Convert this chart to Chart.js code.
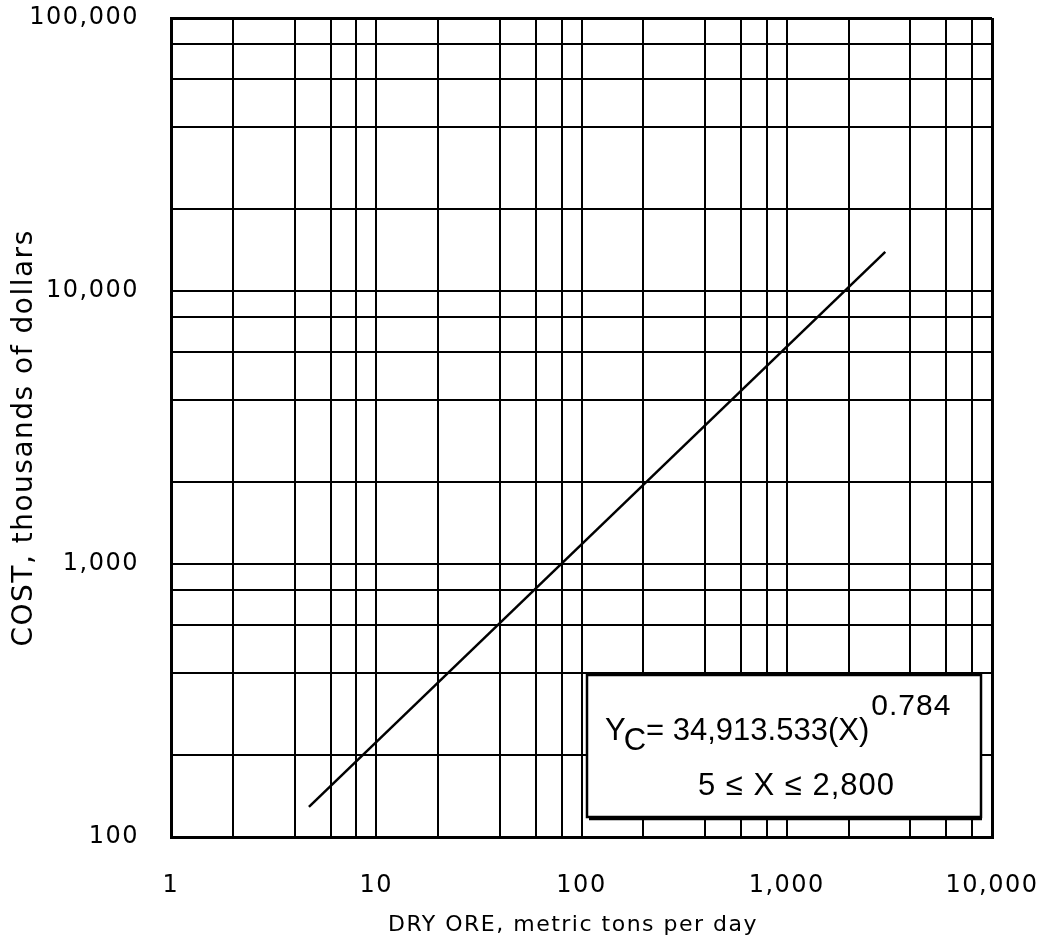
<!DOCTYPE html>
<html>
<head>
<meta charset="utf-8">
<script src="https://cdn.jsdelivr.net/npm/chart.js@4.4.1/dist/chart.umd.min.js"></script>
<style>
  html, body { margin: 0; padding: 0; background: #fff; }
  #wrap { width: 1048px; height: 951px; }
</style>
</head>
<body>
<div id="wrap"><canvas id="costChart"></canvas></div>
<script>
// cost curve (ends of the fitted line)
const oreTons = [4.7, 3020];
const costThousands = [129, 13900];

// grid lines of the log paper and the labelled decades
const xGrid = [1, 2, 4, 6, 8, 10, 20, 40, 60, 80, 100, 200, 400, 600, 800, 1000, 2000, 4000, 6000, 8000, 10000];
const yGrid = [100, 200, 400, 600, 800, 1000, 2000, 4000, 6000, 8000, 10000, 20000, 40000, 60000, 80000, 100000];
const xLabelValues = [1, 10, 100, 1000, 10000];
const xTickLabels = ["1", "10", "100", "1,000", "10,000"];
const yLabelValues = [100, 1000, 10000, 100000];
const yTickLabels = ["100", "1,000", "10,000", "100,000"];

const eqLead = "Y";
const eqSub = "C";
const eqText = "= 34,913.533(X)";
const eqExponent = "0.784";
const rangeText = "5 \u2264 X \u2264 2,800";

Chart.defaults.color = "#000";
Chart.defaults.font.family = "'DejaVu Sans', sans-serif";

// the plotter font is spaced out, widen all axis text a little
const spacing = {
  id: "spacing",
  beforeLayout(chart) { chart.ctx.letterSpacing = "1.5px"; },
  beforeDraw(chart) { chart.ctx.letterSpacing = "1.5px"; }
};

// boxed regression equation in the lower right
const eqBox = {
  id: "eqBox",
  afterDraw(chart) {
    const { ctx, chartArea: a } = chart;
    const x0 = a.right - 405, y0 = a.bottom - 162, w = 394, h = 142;
    ctx.save();
    ctx.letterSpacing = "0px";
    ctx.fillStyle = "#fff";
    ctx.fillRect(x0, y0, w, h);
    ctx.strokeStyle = "#000";
    ctx.lineWidth = 2.5;
    ctx.strokeRect(x0, y0, w, h);
    ctx.beginPath();
    ctx.moveTo(x0 + 2, y0 + h + 2);
    ctx.lineTo(x0 + w + 1, y0 + h + 2);
    ctx.stroke();

    ctx.fillStyle = "#000";
    ctx.textAlign = "left";
    ctx.textBaseline = "alphabetic";
    ctx.font = "31px 'Liberation Sans', Arial, sans-serif";
    let x = x0 + 18;
    ctx.fillText(eqLead, x, y0 + 65);
    x += ctx.measureText(eqLead).width - 2;
    ctx.fillText(eqSub, x, y0 + 75);
    x += ctx.measureText(eqSub).width;
    ctx.fillText(eqText, x, y0 + 65);
    x += ctx.measureText(eqText).width + 2;
    ctx.letterSpacing = "1px";
    ctx.font = "30px 'Liberation Sans', Arial, sans-serif";
    ctx.fillText(eqExponent, x, y0 + 40);

    ctx.font = "31px 'Liberation Sans', Arial, sans-serif";
    ctx.fillText(rangeText, x0 + 111, y0 + 120);
    ctx.restore();
  }
};

function gridWidth(ctx, min, max) {
  const v = ctx.tick ? ctx.tick.value : null;
  return (v === min || v === max) ? 3 : 2;
}

// keep the plot box where the paper has it: no extra label padding
function noPad(s) {
  s.paddingTop = 0;
  s.paddingBottom = 0;
  s.paddingLeft = 0;
  s.paddingRight = 0;
}

new Chart(document.getElementById("costChart"), {
  type: "scatter",
  data: {
    datasets: [{
      label: "Cost",
      data: oreTons.map((t, i) => ({ x: t, y: costThousands[i] })),
      showLine: true,
      borderColor: "#000",
      borderWidth: 2.5,
      pointRadius: 0,
      fill: false
    }]
  },
  options: {
    responsive: true,
    maintainAspectRatio: false,
    animation: false,
    layout: { padding: { left: 0, top: 18, right: 56, bottom: 0 } },
    plugins: {
      legend: { display: false },
      tooltip: { enabled: false }
    },
    scales: {
      x: {
        type: "logarithmic",
        min: 1,
        max: 10000,
        afterBuildTicks: s => { s.ticks = xGrid.map(v => ({ value: v })); },
        afterFit: s => { s.height = 114; noPad(s); },
        grid: { color: "#000", lineWidth: c => gridWidth(c, 1, 10000), drawTicks: false },
        border: { color: "#000", width: 3 },
        ticks: {
          autoSkip: false,
          maxRotation: 0,
          padding: 34,
          font: { size: 24 },
          callback: v => {
            const i = xLabelValues.indexOf(v);
            return i >= 0 ? xTickLabels[i] : "";
          }
        },
        title: {
          display: true,
          text: "DRY ORE, metric tons per day  ",
          font: { size: 22 },
          padding: { top: 0, bottom: 13 }
        }
      },
      y: {
        type: "logarithmic",
        min: 100,
        max: 100000,
        afterBuildTicks: s => { s.ticks = yGrid.map(v => ({ value: v })); },
        afterFit: s => { s.width = 171; noPad(s); },
        grid: { color: "#000", lineWidth: c => gridWidth(c, 100, 100000), drawTicks: false },
        border: { color: "#000", width: 3 },
        ticks: {
          autoSkip: false,
          padding: 32,
          font: { size: 24 },
          callback: v => {
            const i = yLabelValues.indexOf(v);
            return i >= 0 ? yTickLabels[i] : "";
          }
        },
        title: {
          display: true,
          text: "COST, thousands of dollars  ",
          font: { size: 28 },
          padding: { top: 8, bottom: 0 }
        }
      }
    }
  },
  plugins: [spacing, eqBox]
});
</script>
</body>
</html>
